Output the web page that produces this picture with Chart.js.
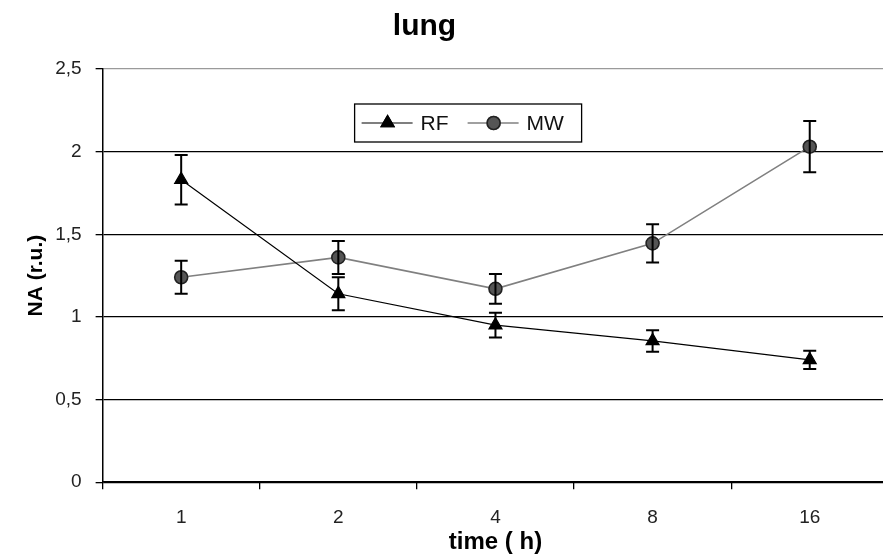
<!DOCTYPE html>
<html>
<head>
<meta charset="utf-8">
<script src="https://cdn.jsdelivr.net/npm/chart.js@4/dist/chart.umd.min.js"></script>
<style>
  html, body { margin: 0; padding: 0; background: #fff; overflow: hidden; }
  #wrap { width: 897px; height: 560px; }
</style>
</head>
<body>
<div id="wrap"><canvas id="chart"></canvas></div>
<script>
const times = ["1", "2", "4", "8", "16"];
const rfMean = [1.83, 1.14, 0.95, 0.855, 0.74];
const rfErr = [0.15, 0.1, 0.075, 0.065, 0.055];
const mwMean = [1.24, 1.36, 1.17, 1.445, 2.03];
const mwErr = [0.1, 0.1, 0.09, 0.115, 0.155];
const yTicks = [0, 0.5, 1, 1.5, 2, 2.5];

const fontFam = "'Liberation Sans', Arial, sans-serif";

// error bars, drawn through the chart's own scales
const errorBars = {
    id: "errorBars",
    afterDatasetsDraw(chart) {
        const ctx = chart.ctx;
        const y = chart.scales.y;
        chart.data.datasets.forEach((ds, i) => {
            const meta = chart.getDatasetMeta(i);
            ctx.save();
            ctx.strokeStyle = "#000";
            ctx.lineWidth = 2;
            meta.data.forEach((pt, j) => {
                const v = ds.data[j];
                const e = ds.errors[j];
                const top = y.getPixelForValue(v + e);
                const bot = y.getPixelForValue(v - e);
                ctx.beginPath();
                ctx.moveTo(pt.x, top);
                ctx.lineTo(pt.x, bot);
                ctx.moveTo(pt.x - 6.5, top);
                ctx.lineTo(pt.x + 6.5, top);
                ctx.moveTo(pt.x - 6.5, bot);
                ctx.lineTo(pt.x + 6.5, bot);
                ctx.stroke();
            });
            ctx.restore();
        });
    },
};

// boxed legend inside the plot, line + marker like the original
const boxLegend = {
    id: "boxLegend",
    afterDraw(chart) {
        const ctx = chart.ctx;
        const area = chart.chartArea;
        const x0 = area.left + 252;
        const y0 = area.top + 35;
        const w = 227, h = 38;
        ctx.save();
        ctx.fillStyle = "#fff";
        ctx.fillRect(x0, y0, w, h);
        ctx.strokeStyle = "#000";
        ctx.lineWidth = 1.3;
        ctx.strokeRect(x0, y0, w, h);
        ctx.font = "21px " + fontFam;
        ctx.textBaseline = "middle";
        let x = x0 + 7;
        const cy = y0 + h / 2;
        chart.data.datasets.forEach((ds) => {
            ctx.strokeStyle = ds.borderColor;
            ctx.lineWidth = ds.borderWidth;
            ctx.beginPath();
            ctx.moveTo(x, cy);
            ctx.lineTo(x + 51, cy);
            ctx.stroke();
            Chart.helpers.drawPoint(ctx, {
                pointStyle: ds.pointStyle,
                radius: ds.pointRadius,
                borderWidth: 1,
                rotation: 0,
            }, x + 26, cy);
            ctx.fillStyle = ds.pointBackgroundColor;
            ctx.strokeStyle = ds.pointBorderColor;
            ctx.fill();
            ctx.stroke();
            ctx.fillStyle = "#111";
            ctx.fillText(ds.label, x + 59, cy + 1);
            x += 106;
        });
        ctx.restore();
    },
};

new Chart(document.getElementById("chart"), {
    type: "line",
    data: {
        labels: times,
        datasets: [
            {
                label: "RF",
                data: rfMean,
                errors: rfErr,
                borderColor: "#000",
                borderWidth: 1.2,
                pointStyle: "triangle",
                pointRadius: 7.5,
                pointBackgroundColor: "#000",
                pointBorderColor: "#000",
                tension: 0,
            },
            {
                label: "MW",
                data: mwMean,
                errors: mwErr,
                borderColor: "#808080",
                borderWidth: 1.6,
                pointStyle: "circle",
                pointRadius: 6.5,
                pointBackgroundColor: "#555",
                pointBorderColor: "#222",
                tension: 0,
            },
        ],
    },
    options: {
        responsive: true,
        maintainAspectRatio: false,
        animation: false,
        layout: { padding: { left: -48, right: 0, top: 0, bottom: 1 } },
        plugins: {
            legend: { display: false },
            tooltip: { enabled: false },
            title: {
                display: true,
                text: "lung",
                color: "#000",
                font: { family: fontFam, size: 30, weight: "bold" },
                padding: { top: 9, bottom: 24 },
            },
        },
        scales: {
            x: {
                type: "category",
                offset: true,
                grid: {
                    offset: true,
                    drawOnChartArea: false,
                    tickLength: 7,
                    color: "#000",
                    lineWidth: 1.3,
                },
                border: { color: "#000", width: 1.5 },
                ticks: {
                    color: "#222",
                    padding: 17.6,
                    maxRotation: 0,
                    font: { family: fontFam, size: 19 },
                },
                title: {
                    display: true,
                    text: "time ( h)",
                    color: "#000",
                    font: { family: fontFam, size: 24, weight: "bold" },
                    padding: { top: -19, bottom: 2 },
                },
            },
            y: {
                min: yTicks[0],
                max: yTicks[yTicks.length - 1],
                afterBuildTicks: (scale) => {
                    scale.ticks = yTicks.map((v) => ({ value: v }));
                },
                grid: {
                    tickLength: 7,
                    lineWidth: 1.3,
                    color: (c) => (c.tick && c.tick.value === 2.5 ? "#9a9a9a" : "#000"),
                    tickColor: "#000",
                },
                border: { color: "#000", width: 1.5 },
                ticks: {
                    color: "#222",
                    padding: 14,
                    font: { family: fontFam, size: 19 },
                    callback: (v) => String(v).replace(".", ","),
                },
                title: {
                    display: true,
                    text: "NA (r.u.)",
                    color: "#000",
                    font: { family: fontFam, size: 21, weight: "bold" },
                    padding: { top: 72, bottom: -8 },
                },
            },
        },
    },
    plugins: [errorBars, boxLegend],
});
</script>
</body>
</html>
